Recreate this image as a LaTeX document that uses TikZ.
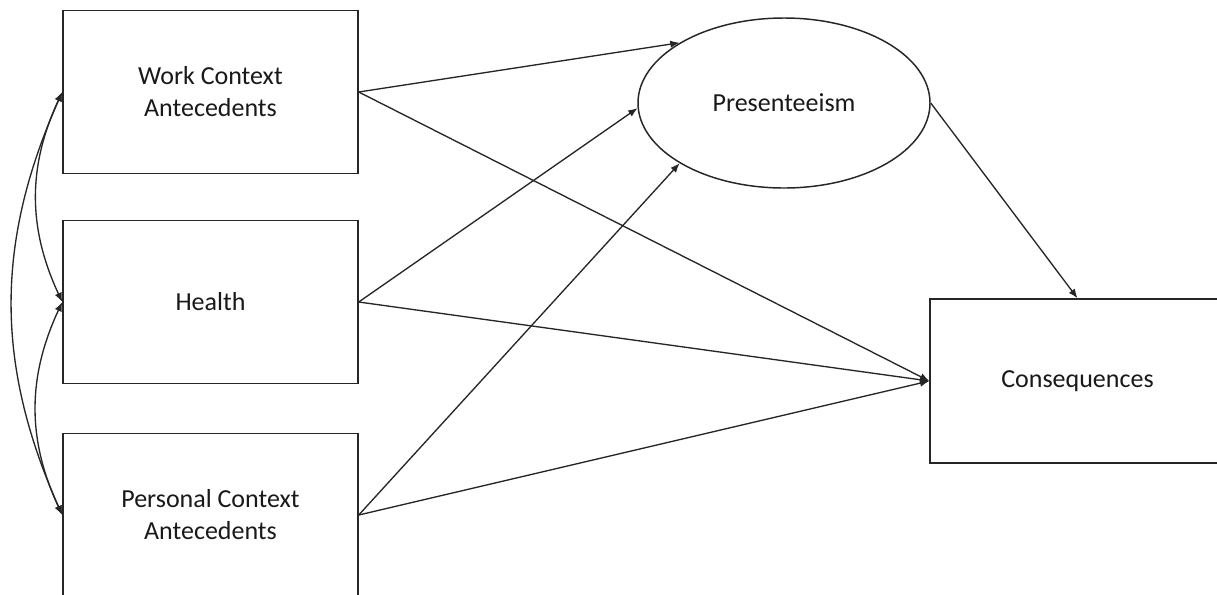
\documentclass[tikz,border=0pt]{standalone}
\usepackage{fontspec}
\setmainfont{Carlito}
\usetikzlibrary{arrows.meta,shapes.geometric}
\begin{document}
\begin{tikzpicture}[x=0.75pt,y=-0.75pt,
  every node/.style={font=\fontsize{19.5}{24}\selectfont, text=black!90, align=center},
  varbox/.style={draw=black!85, line width=1.1pt, rectangle, inner sep=0pt,
    minimum width=221.25pt, minimum height=122pt},
  latent/.style={draw=black!85, line width=1.1pt, ellipse, inner sep=0pt,
    minimum width=219pt, minimum height=127.5pt},
  path/.style={draw=black!85, line width=1pt, -{Latex[length=7pt,width=5.5pt]}},
  cov/.style={draw=black!85, line width=1pt, {Latex[length=7pt,width=5.5pt]}-{Latex[length=7pt,width=5.5pt]}}
]
\useasboundingbox (0,0) rectangle (1217,594);
\clip (0,0) rectangle (1217,594);
\fill[white] (0,0) rectangle (1217,594);

% observed variables
\node[varbox] (W) at (210.5,92) {Work Context\\Antecedents};
\node[varbox] (H) at (210.5,302) {Health};
\node[varbox] (PC) at (210.5,515) {Personal Context\\Antecedents};
\node[varbox, minimum height=123pt] (C) at (1077.5,381) {Consequences};

% latent variable
\node[latent] (P) at (784,103) {Presenteeism};

% covariances between the predictors
\draw[cov] (W.west) to[out=245,in=115] (H.west);
\draw[cov] (H.west) to[out=245,in=115] (PC.west);
\draw[cov] (W.west) to[out=246,in=114] (PC.west);

% paths to presenteeism
\draw[path] (W.east) -- (P.150);
\draw[path] (H.east) -- (P.182);
\draw[path] (PC.east) -- (P.210);

% paths to consequences
\draw[path] (W.east) -- (C.west);
\draw[path] (H.east) -- (C.west);
\draw[path] (PC.east) -- (C.west);
\draw[path] (P.east) -- (C.north);
\end{tikzpicture}
\end{document}
